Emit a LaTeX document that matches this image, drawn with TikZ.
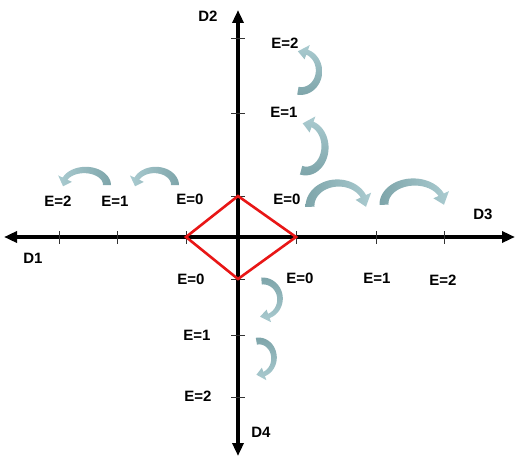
\documentclass[tikz,border=0pt]{standalone}
\usepackage{fontspec}
\setmainfont{Liberation Sans}
\usetikzlibrary{arrows.meta,calc}
\definecolor{tealdark}{RGB}{126,165,170}
\definecolor{teallight}{RGB}{170,203,208}
\definecolor{diamondred}{RGB}{232,22,22}
% tapered curved arrow: cx, cy, xr, yr, tail width, start, head-base angle, tip angle, shading style
\newcommand{\tealarrow}[9]{%
  \shade[#9]
    plot[variable=\t, domain=#6:#7, samples=40]
      ({#1+(#3+0.5*#5*(1-0.35*(\t-#6)/(#7-#6)))*cos(\t)},{#2+(#4+0.5*#5*(1-0.35*(\t-#6)/(#7-#6)))*sin(\t)})
    -- ({#1+(#3+0.95*#5)*cos(#7)},{#2+(#4+0.95*#5)*sin(#7)})
    -- ({#1+#3*cos(#8)},{#2+#4*sin(#8)})
    -- ({#1+(#3-0.95*#5)*cos(#7)},{#2+(#4-0.95*#5)*sin(#7)})
    -- plot[variable=\t, domain=#7:#6, samples=40]
      ({#1+(#3-0.5*#5*(1-0.35*(\t-#6)/(#7-#6)))*cos(\t)},{#2+(#4-0.5*#5*(1-0.35*(\t-#6)/(#7-#6)))*sin(\t)})
    -- cycle;}
\begin{document}
\begin{tikzpicture}[x=1pt,y=-1pt,
  lbl/.style={font=\fontsize{15}{17}\selectfont\bfseries, inner sep=0pt},
  axisline/.style={line width=3.5pt, {Triangle[length=13pt,width=11pt]}-{Triangle[length=13pt,width=11pt]}},
  tickmark/.style={line width=1pt, black!80},
  diam/.style={draw=diamondred, line width=2.6pt, line join=miter},
  toright/.style={left color=tealdark, right color=teallight},
  toleft/.style={left color=teallight, right color=tealdark},
  toup/.style={top color=teallight, bottom color=tealdark},
  todown/.style={top color=tealdark, bottom color=teallight}]
\useasboundingbox (0,0) rectangle (517,460);

% axes
\coordinate (axtop) at (238,10);
\coordinate (axbot) at (238,456);
\coordinate (axleft) at (4,237);
\coordinate (axright) at (515,237);
\draw[axisline] (axbot) -- (axtop);
\draw[axisline] (axleft) -- (axright);

% ticks
\foreach \yy in {39,113,196,279,335,397} {
  \draw[tickmark] (231,\yy) -- (245,\yy);
}
\foreach \xx in {59,117,186,296,376,444} {
  \draw[tickmark] (\xx,231) -- (\xx,244);
}

% diamond
\coordinate (dl) at (186,237);
\coordinate (dt) at (238,196);
\coordinate (dr) at (296,237);
\coordinate (db) at (238,279);
\draw[diam] (dl) -- (dt) -- (dr) -- (db) -- cycle;

% curved arrows
% D2
\tealarrow{306}{147}{19}{24}{9}{105}{-70}{-100}{toup}
\tealarrow{301}{71}{18}{20}{8}{100}{-70}{-100}{toup}
% D3
\tealarrow{338}{206}{28}{23}{9}{178}{335}{362}{toright}
\tealarrow{414}{204}{30}{22}{9}{178}{335}{362}{toright}
% D1
\tealarrow{155}{185}{20}{15}{8}{0}{-155}{-185}{toleft}
\tealarrow{85}{185}{22}{15}{8}{0}{-155}{-185}{toleft}
% D4
\tealarrow{263}{299}{17}{18}{7}{-95}{70}{100}{todown}
\tealarrow{259}{358}{15}{17}{7}{-100}{70}{100}{todown}

% labels
\node[lbl] (d2) at (208,16) {D2};
\node[lbl] (d1) at (33,258) {D1};
\node[lbl] (d3) at (483,214) {D3};
\node[lbl] (d4) at (261,432) {D4};

\node[lbl] (e2u) at (285,43) {E=2};
\node[lbl] (e1u) at (284,112) {E=1};
\node[lbl] (e0u) at (287,199) {E=0};
\node[lbl] (e0l) at (190,199) {E=0};
\node[lbl] (e1l) at (115,201) {E=1};
\node[lbl] (e2l) at (58,201) {E=2};
\node[lbl] (e0d) at (191,279) {E=0};
\node[lbl] (e0r) at (300,278) {E=0};
\node[lbl] (e1r) at (377,278) {E=1};
\node[lbl] (e2r) at (443,280) {E=2};
\node[lbl] (e1d) at (197,335) {E=1};
\node[lbl] (e2d) at (198,396) {E=2};
\end{tikzpicture}
\end{document}
